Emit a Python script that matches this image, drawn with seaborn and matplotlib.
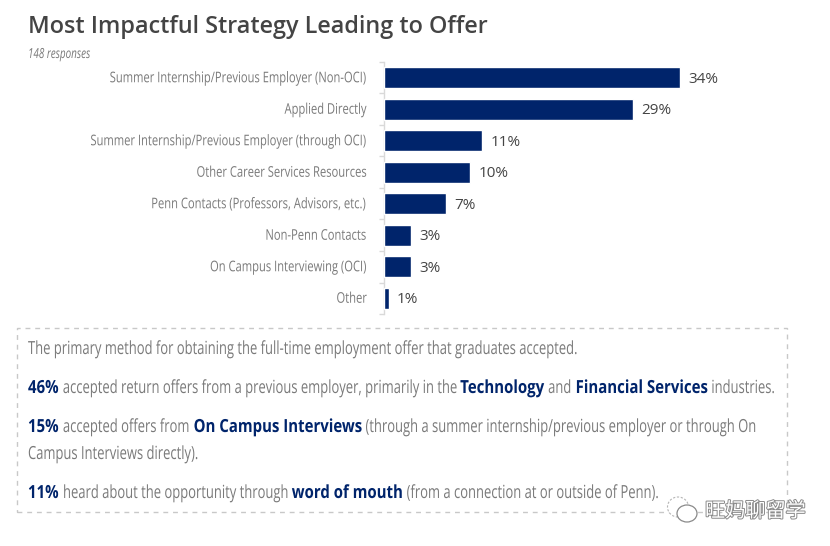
#!/usr/bin/env python3
"""Most impactful strategy leading to offer - horizontal bars with a notes box"""

import matplotlib
matplotlib.use("Agg")
import matplotlib.pyplot as plt
import matplotlib.patheffects as pe
from matplotlib.patches import Rectangle, Ellipse
from matplotlib.text import Text
from matplotlib.transforms import Affine2D, Bbox
import seaborn as sns
import pandas as pd

# Data
strategies = [
    "Summer Internship/Previous Employer (Non-OCI)",
    "Applied Directly",
    "Summer Internship/Previous Employer (through OCI)",
    "Other Career Services Resources",
    "Penn Contacts (Professors, Advisors, etc.)",
    "Non-Penn Contacts",
    "On Campus Interviewing (OCI)",
    "Other",
]
shares = [34.0, 28.6, 11.3, 9.9, 7.2, 3.2, 3.2, 0.6]

title = "Most Impactful Strategy Leading to Offer"
subtitle = "148 responses"

# (text, bold) runs for each line of the notes box
note_intro = [("The primary method for obtaining the full-time employment offer that graduates accepted.", False)]
note_return = [("46%", True), (" accepted return offers from a previous employer, primarily in the ", False),
               ("Technology", True), (" and ", False), ("Financial Services", True), (" industries.", False)]
note_oci_1 = [("15%", True), (" accepted offers from ", False), ("On Campus Interviews", True),
              (" (through a summer internship/previous employer or through On", False)]
note_oci_2 = [("Campus Interviews directly).", False)]
note_mouth = [("11%", True), (" heard about the opportunity through ", False), ("word of mouth", True),
              (" (from a connection at or outside of Penn).", False)]
watermark = "旺妈聊留学"

# Colours
NAVY = "#00246b"
GREY_TEXT = "#7a7a7a"
DARK_TEXT = "#444444"
RULE = "#d9d9d9"

W, H = 830, 546
NOTE_SIZE = 13
NOTE_SQUEEZE = 0.72
BOLD_SQUEEZE = 0.83


def fx(px):
    return px / W


def fy(px):
    return 1 - px / H


class Squeeze(pe.AbstractPathEffect):
    """No condensed font is installed, so narrow the glyphs around an anchor x"""

    def __init__(self, anchor, factor, dy=0):
        super().__init__()
        self.anchor = anchor
        self.factor = factor
        self.dy = dy

    def draw_path(self, renderer, gc, tpath, affine, rgbFace=None):
        squeeze = Affine2D().translate(-self.anchor, 0).scale(self.factor, 1).translate(self.anchor, self.dy)
        renderer.draw_path(gc, tpath, affine + squeeze, rgbFace)


class CondensedText(Text):
    """Text drawn narrowed, and reporting the narrowed box"""

    def __init__(self, px, py, text, factor, **kwargs):
        super().__init__(fx(px), fy(py), text, **kwargs)
        self.anchor = px
        self.factor = factor
        self.set_path_effects([Squeeze(px, factor)])

    def get_window_extent(self, renderer=None, dpi=None):
        bb = super().get_window_extent(renderer, dpi)
        x0 = self.anchor + (bb.x0 - self.anchor) * self.factor
        x1 = self.anchor + (bb.x1 - self.anchor) * self.factor
        return Bbox([[x0, bb.y0], [x1, bb.y1]])


def draw_runs(fig, x, y, runs):
    """Draw text runs one after another on a baseline, measuring each"""
    renderer = fig.canvas.get_renderer()
    space = NOTE_SIZE * 100 / 72 * 0.34 * NOTE_SQUEEZE
    for text, bold in runs:
        if text.startswith(" "):
            x += space
        t = CondensedText(x, y, text.strip(), BOLD_SQUEEZE if bold else NOTE_SQUEEZE, fontsize=NOTE_SIZE,
                          fontweight="bold" if bold else "normal",
                          color=NAVY if bold else GREY_TEXT, va="baseline", ha="left",
                          transform=fig.transFigure)
        fig.add_artist(t)
        x = t.get_window_extent(renderer).x1
        if text.endswith(" "):
            x += space


def main():
    sns.set_theme(style="white")
    plt.rcParams["font.family"] = ["Open Sans", "DejaVu Sans"]

    fig = plt.figure(figsize=(W / 100, H / 100), dpi=100)
    ax = fig.add_axes([fx(383.5), fy(314), fx(346), (314 - 62) / H])

    df = pd.DataFrame({"strategy": strategies, "share": shares})
    sns.barplot(data=df, y="strategy", x="share", color=NAVY, width=0.66, saturation=1, ax=ax)

    ax.set_xlim(0, 346 / 8.72)
    ax.set_ylim(len(strategies) - 0.5, -0.5)
    ax.set_xlabel("")
    ax.set_ylabel("")
    ax.xaxis.set_visible(False)
    sns.despine(ax=ax, top=True, right=True, bottom=True)
    ax.spines["left"].set_color(RULE)
    ax.spines["left"].set_linewidth(1)
    ax.spines["left"].set_zorder(0.5)

    # category labels sit beside the bars, ticks fall between the categories
    ax.set_yticks(range(len(strategies)))
    ax.set_yticklabels(strategies, fontsize=10.6, color=GREY_TEXT)
    ax.tick_params(axis="y", length=0, pad=11.9)
    ax.set_yticks([i - 0.5 for i in range(len(strategies) + 1)], minor=True)
    ax.tick_params(axis="y", which="minor", length=3.6, width=1, color=RULE, left=True)
    for label in ax.get_yticklabels():
        label.set_path_effects([Squeeze(367, 0.76, dy=1)])

    for t in ax.bar_label(ax.containers[0], fmt="%.0f%%", padding=6, fontsize=11, color=DARK_TEXT):
        t.xyann = (t.xyann[0], t.xyann[1] - 1)

    fig.text(fx(28), fy(33), title, fontsize=16.8, fontweight="semibold", color=DARK_TEXT, va="baseline")
    fig.add_artist(CondensedText(28, 58, subtitle, 0.71, fontsize=10, style="italic", color=GREY_TEXT,
                                 va="baseline", transform=fig.transFigure))

    # notes box
    fig.add_artist(Rectangle((fx(17), fy(512)), fx(770), (512 - 328) / H, transform=fig.transFigure,
                             fill=False, edgecolor="#c8c8c8", linewidth=1, linestyle=(0, (3.5, 3.5))))
    fig.canvas.draw()
    draw_runs(fig, 28, 354, note_intro)
    draw_runs(fig, 28, 393, note_return)
    draw_runs(fig, 28, 432, note_oci_1)
    draw_runs(fig, 28, 459, note_oci_2)
    draw_runs(fig, 28, 498, note_mouth)

    # watermark
    fig.add_artist(Ellipse((fx(678), fy(507)), fx(21), 20 / H, transform=fig.transFigure,
                           facecolor="white", edgecolor="#b5b5b5", linewidth=0.8, linestyle=(0, (2, 1.5))))
    fig.add_artist(Ellipse((fx(687), fy(513.5)), fx(20), 17 / H, transform=fig.transFigure,
                           facecolor="white", edgecolor="#8a8a8a", linewidth=0.9))
    halo = [pe.withStroke(linewidth=1.4, foreground="#8a8a8a")]
    fig.text(fx(705), fy(517), watermark, fontsize=14.5, color="white",
             family=["Noto Sans CJK SC", "DejaVu Sans"], va="baseline", path_effects=halo)

    fig.savefig("out.png", dpi=100)
    plt.close(fig)


if __name__ == "__main__":
    main()
